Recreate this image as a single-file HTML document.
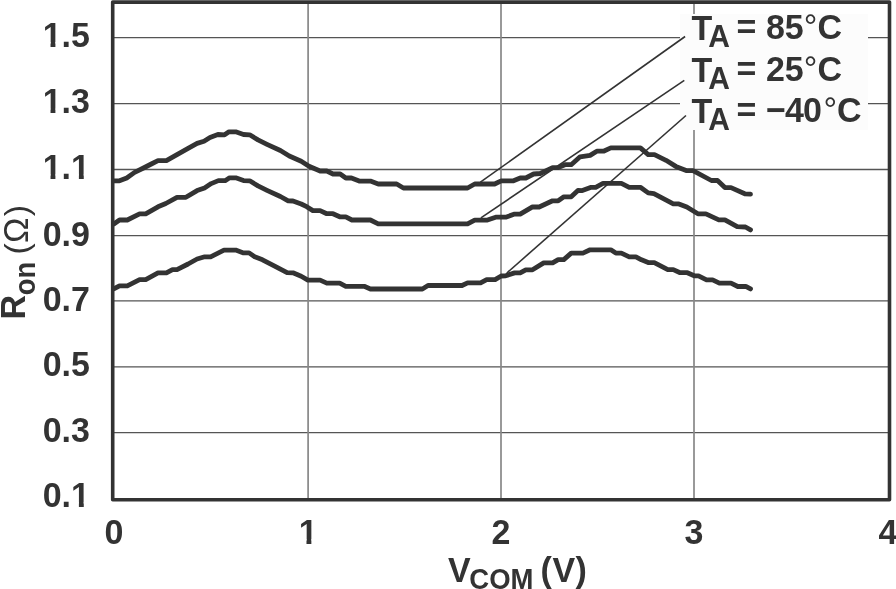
<!DOCTYPE html>
<html><head><meta charset="utf-8">
<style>
html,body{margin:0;padding:0;background:#fff;width:896px;height:589px;overflow:hidden}
svg{display:block;filter:grayscale(1)}
text{font-family:"Liberation Sans",Arial,sans-serif;font-weight:bold;fill:#333}
</style></head><body>
<svg width="896" height="589" viewBox="0 0 896 589">
<path d="M113 37.6H889M113 103.7H889M113 169.5H889M113 235.7H889M113 300.8H889M113 366.9H889M113 432.6H889" stroke="#555" stroke-width="1.3" fill="none"/>
<path d="M308.1 2V500M501 2V500M694 2V500" stroke="#888" stroke-width="1.7" fill="none"/>
<rect x="680" y="14" width="188" height="116" fill="#fcfcfc"/>
<rect x="112.7" y="2.1" width="776.8" height="497.7" fill="none" stroke="#333" stroke-width="3.6" stroke-linejoin="round"/>
<g stroke="#333" stroke-width="4.8" fill="none" stroke-linejoin="round" stroke-linecap="round">
<path d="M114.2,180.8 L119.5,180.8 L126.7,178 L134.6,172.4 L143.5,168 L151.3,164 L158,160.7 L166.4,160.7 L177,154.6 L188.1,148.4 L197.1,143.4 L204,141.3 L210,137.5 L217.9,134.5 L224.6,134.8 L229,131.8 L235.7,131.8 L243.5,134.5 L249.7,134.8 L258,139.9 L267,144.3 L280.4,150.5 L289.3,156 L301.2,161.2 L309,166.2 L320.1,171 L326.8,171 L333,174 L340.2,174 L345.8,178 L351.4,178 L359.2,181.1 L370.4,181.1 L378.2,184 L396.7,184 L403.4,188 L467.6,188 L474.7,184 L494.6,184 L501.2,180.8 L513.5,180.8 L520.2,178 L525.8,178 L533.6,174 L540.3,173.5 L552.6,167.6 L558.2,167.6 L564.9,164.7 L571.2,164.7 L580.1,156.8 L590.1,155.4 L596.8,151.2 L603.5,151.2 L610.8,147.9 L640.4,147.9 L648.2,154.6 L654.5,154.6 L666,160.3 L675.8,166.4 L686.8,170.7 L693,170.7 L711.4,180.5 L717.5,180.5 L724.9,187.6 L731,187.6 L744.8,193.8 L750.5,194.1"/>
<path d="M114.2,223.7 L119.5,220 L127.3,220 L139.6,213.8 L145.7,213.8 L158,206.8 L165.8,203.5 L177,197.3 L185.9,197.3 L197.1,190.6 L204.5,187.9 L211.2,183.6 L218.4,180.6 L225.1,180.7 L229.6,177.8 L235.7,177.8 L243.5,180.6 L249.7,180.8 L258,185.9 L267,190.3 L280.4,196.5 L288.2,200.9 L293,201 L301.2,204 L306.7,206.7 L312.9,210.6 L320.1,210.6 L326.8,213.7 L333,213.7 L339.7,216.8 L345.8,216.8 L351.9,220 L370.4,220 L378.2,223.9 L467.6,223.9 L474.7,220.2 L486.7,220.2 L495.7,217.2 L505.7,217.2 L514.6,214.1 L520.2,214.1 L532.5,206.9 L539.2,207 L552.6,200.8 L558.2,200.8 L563.9,196.8 L571.2,196.8 L577.9,190.5 L582.3,190.6 L591.2,187.3 L595.7,187.3 L603,183.4 L621.4,183.4 L629.2,187.3 L640.4,187.3 L648.2,192.9 L653.9,193.7 L673.3,203.9 L678.9,203.9 L686.8,207 L697.9,213.8 L705.9,213.8 L718.8,219.9 L724.9,219.9 L737.2,226.7 L745.5,227 L750.5,229.9"/>
<path d="M114.2,288.7 L119.5,285.8 L127.3,285.8 L139.6,279.6 L145.7,279.6 L158,272.9 L166.4,272.9 L172.5,269.6 L177,269.6 L188.1,264 L197.1,259 L204.7,256.8 L210.6,256.8 L224,250.1 L235.7,250.1 L243.5,252.9 L249.1,252.9 L254.7,256.8 L262.5,259.8 L273.7,265.7 L287.1,272.7 L293,272.8 L301.2,276.2 L307.9,280.1 L320.1,280.1 L326.8,283.1 L339.7,283.1 L345.8,286.3 L364.2,286.3 L370.4,289 L422.4,289 L428,285.5 L462,285.5 L467.6,282.8 L480.6,282.8 L486.7,279.6 L495.1,279.6 L501.2,276 L505.7,275.8 L514.6,272.9 L520.2,272.9 L525.8,269.8 L532.5,269.8 L543.7,262.9 L552.6,262.9 L558.2,259.6 L563.8,259.6 L571.2,253.1 L582.9,253.1 L590.1,249.8 L610.8,249.8 L615.8,253.1 L621.4,253.1 L629.2,256.8 L635.9,256.8 L641.5,259.8 L648.2,262.5 L654.3,262.6 L667.8,269.6 L673.3,269.6 L680.1,272.7 L687.4,272.7 L694.2,275.8 L698.5,275.8 L706.5,279.8 L712.6,279.8 L719.4,283.1 L731,283.1 L737.8,286.5 L745.8,286.3 L750.5,288.9"/>
</g>
<g stroke="#333" stroke-width="1.6" fill="none">
<path d="M685.1 36.5L480.4 182.2"/>
<path d="M684.3 80.4L480.9 217.9"/>
<path d="M686 115.5L506.8 273"/>
</g>
<text transform="translate(42.7,46.7) scale(1,1.04)" font-size="34">1.5</text>
<text transform="translate(42.7,113.3) scale(1,1.04)" font-size="34">1.3</text>
<text transform="translate(42.7,179.0) scale(1,1.04)" font-size="34">1.1</text>
<text transform="translate(42.7,245.5) scale(1,1.04)" font-size="34">0.9</text>
<text transform="translate(42.7,310.6) scale(1,1.04)" font-size="34">0.7</text>
<text transform="translate(42.7,376.1) scale(1,1.04)" font-size="34">0.5</text>
<text transform="translate(42.7,442.2) scale(1,1.04)" font-size="34">0.3</text>
<text transform="translate(42.7,506.8) scale(1,1.04)" font-size="34">0.1</text>
<text transform="translate(114,543.8) scale(1,1.04)" font-size="34" text-anchor="middle">0</text>
<text transform="translate(308.1,543.8) scale(1,1.04)" font-size="34" text-anchor="middle">1</text>
<text transform="translate(501,543.8) scale(1,1.04)" font-size="34" text-anchor="middle">2</text>
<text transform="translate(694,543.8) scale(1,1.04)" font-size="34" text-anchor="middle">3</text>
<text transform="translate(888,543.8) scale(1,1.04)" font-size="34" text-anchor="middle">4</text>
<text transform="translate(447.9,581.7) scale(1,1.04)" font-size="34">V</text>
<text transform="translate(469.3,588.6) scale(1,1.04)" font-size="27.5">COM</text>
<text letter-spacing="0.5" transform="translate(540.6,581.7) scale(1,1.04)" font-size="34">(V)</text>
<text transform="translate(691.5,39.8) scale(1,1.04)" font-size="34">T</text>
<text transform="translate(708.3,46.7) scale(1,1.04)" font-size="30">A</text>
<text transform="translate(736.6,38.9) scale(1,1.04)" font-size="34">= 85</text>
<text transform="translate(803.8,38.9) scale(1,1.04)" font-size="34" style="font-weight:normal">°</text>
<text transform="translate(817.4,38.9) scale(1,1.04)" font-size="34">C</text>
<text transform="translate(691.5,81.9) scale(1,1.04)" font-size="34">T</text>
<text transform="translate(708.3,89.0) scale(1,1.04)" font-size="30">A</text>
<text transform="translate(736.6,81.0) scale(1,1.04)" font-size="34">= 25</text>
<text transform="translate(803.8,81.0) scale(1,1.04)" font-size="34" style="font-weight:normal">°</text>
<text transform="translate(817.4,81.0) scale(1,1.04)" font-size="34">C</text>
<text transform="translate(691.5,122.9) scale(1,1.04)" font-size="34">T</text>
<text transform="translate(708.3,130.2) scale(1,1.04)" font-size="30">A</text>
<text transform="translate(736.6,121.7) scale(1,1.04)" font-size="34">= −</text>
<text transform="translate(784.9,121.7) scale(1,1.04)" font-size="34">4</text>
<text transform="translate(803.0,121.7) scale(1,1.04)" font-size="34">0</text>
<text transform="translate(823.5,121.7) scale(1,1.04)" font-size="34" style="font-weight:normal">°</text>
<text transform="translate(837.1,121.7) scale(1,1.04)" font-size="34">C</text>
<rect x="43.90" y="42.10" width="6.63" height="5.4" fill="#fff"/>
<rect x="55.40" y="42.10" width="6.5" height="5.4" fill="#fff"/>
<rect x="43.90" y="108.70" width="6.63" height="5.4" fill="#fff"/>
<rect x="55.40" y="108.70" width="6.5" height="5.4" fill="#fff"/>
<rect x="43.90" y="174.40" width="6.63" height="5.4" fill="#fff"/>
<rect x="55.40" y="174.40" width="6.5" height="5.4" fill="#fff"/>
<rect x="72.26" y="174.40" width="6.63" height="5.4" fill="#fff"/>
<rect x="83.76" y="174.40" width="6.5" height="5.4" fill="#fff"/>
<rect x="72.26" y="502.20" width="6.63" height="5.4" fill="#fff"/>
<rect x="83.76" y="502.20" width="6.5" height="5.4" fill="#fff"/>
<rect x="299.85" y="539.20" width="6.63" height="5.4" fill="#fff"/>
<rect x="311.35" y="539.20" width="6.5" height="5.4" fill="#fff"/>
<g transform="translate(25.2,319.5) rotate(-90)">
<text transform="scale(1,1.04)" font-size="34">R</text>
<text transform="translate(24.3,9.8) scale(1,1.04)" font-size="27.5">on</text>
<text transform="translate(65.0,2.8)" font-size="34" style="font-weight:normal">(</text>
<text transform="translate(76.6,2.8) scale(1,1.04)" font-size="34" style="font-weight:normal">Ω</text>
<text transform="translate(103.2,2.8)" font-size="34" style="font-weight:normal">)</text>
</g>
</svg>
</body></html>
